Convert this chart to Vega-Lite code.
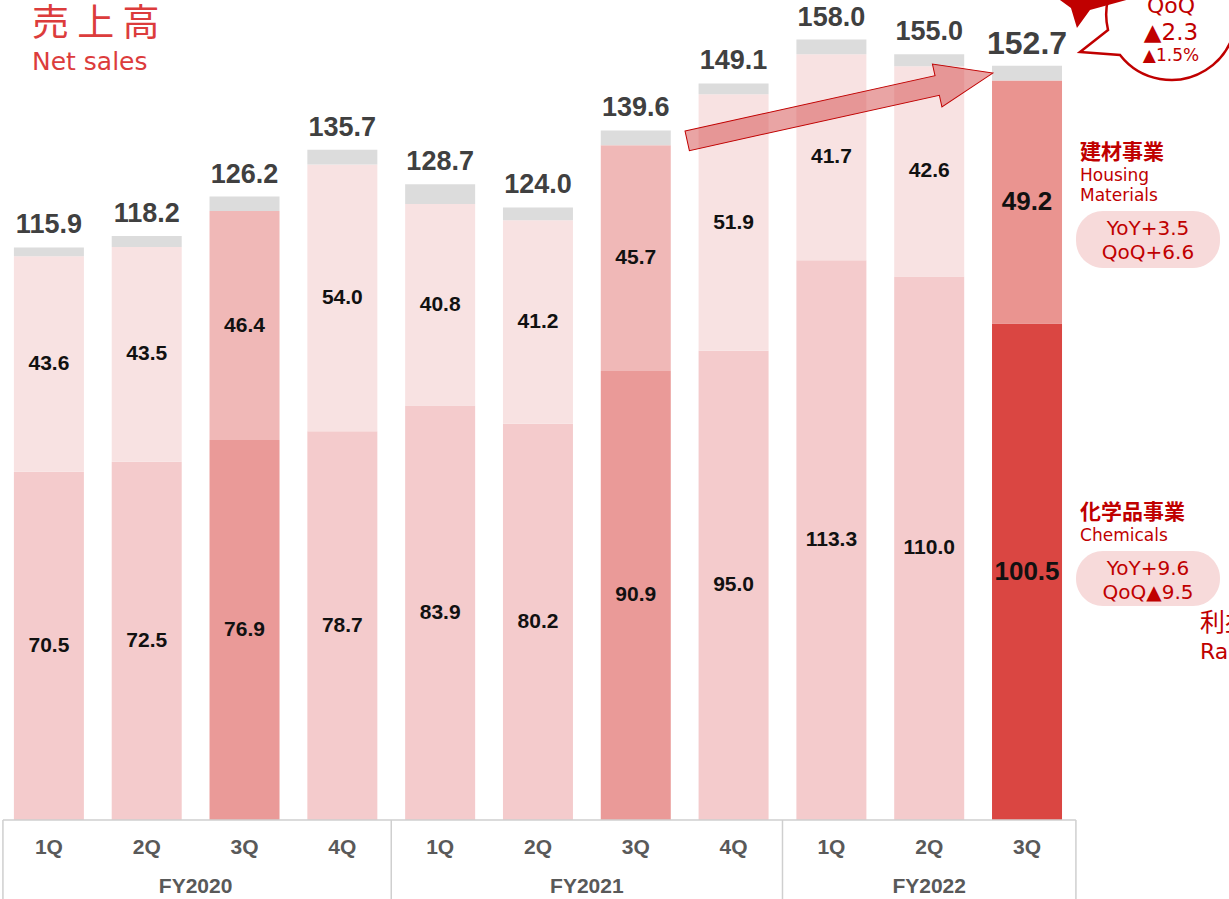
{
  "$schema": "https://vega.github.io/schema/vega-lite/v6.json",
  "width": 1229,
  "height": 899,
  "padding": 0,
  "autosize": {"type": "none"},
  "background": "white",
  "config": {"view": {"stroke": null}},
  "datasets": {
    "sales": [
      {"i": 0, "fy": "FY2020", "q": "1Q", "chem": 70.5, "housing": 43.6, "other": 1.8, "total": 115.9},
      {"i": 1, "fy": "FY2020", "q": "2Q", "chem": 72.5, "housing": 43.5, "other": 2.2, "total": 118.2},
      {"i": 2, "fy": "FY2020", "q": "3Q", "chem": 76.9, "housing": 46.4, "other": 2.9, "total": 126.2},
      {"i": 3, "fy": "FY2020", "q": "4Q", "chem": 78.7, "housing": 54.0, "other": 3.0, "total": 135.7},
      {"i": 4, "fy": "FY2021", "q": "1Q", "chem": 83.9, "housing": 40.8, "other": 4.0, "total": 128.7},
      {"i": 5, "fy": "FY2021", "q": "2Q", "chem": 80.2, "housing": 41.2, "other": 2.6, "total": 124.0},
      {"i": 6, "fy": "FY2021", "q": "3Q", "chem": 90.9, "housing": 45.7, "other": 3.0, "total": 139.6},
      {"i": 7, "fy": "FY2021", "q": "4Q", "chem": 95.0, "housing": 51.9, "other": 2.2, "total": 149.1},
      {"i": 8, "fy": "FY2022", "q": "1Q", "chem": 113.3, "housing": 41.7, "other": 3.0, "total": 158.0},
      {"i": 9, "fy": "FY2022", "q": "2Q", "chem": 110.0, "housing": 42.6, "other": 2.4, "total": 155.0},
      {"i": 10, "fy": "FY2022", "q": "3Q", "chem": 100.5, "housing": 49.2, "other": 3.0, "total": 152.7}
    ]
  },
  "data": {"name": "sales"},
  "layer": [
    {
      "transform": [
        {"fold": ["chem", "housing", "other"], "as": ["key", "value"]},
        {"calculate": "indexof(['chem','housing','other'], datum.key)", "as": "ord"},
        {"stack": "value", "groupby": ["i"], "sort": [{"field": "ord", "order": "ascending"}], "as": ["y0", "y1"]}
      ],
      "mark": {"type": "bar", "size": 70},
      "encoding": {
        "x": {"field": "i", "type": "quantitative", "scale": {"domain": [-0.5, 12.065], "nice": false, "zero": false, "padding": 0}, "axis": null},
        "y": {"field": "y1", "type": "quantitative", "scale": {"domain": [-16, 166], "nice": false, "zero": false, "padding": 0}, "axis": null},
        "y2": {"field": "y0"},
        "color": {
          "condition": [
            {"test": "datum.key === 'other'", "value": "#dcdcdc"},
            {"test": "datum.fy === 'FY2022' && datum.q === '3Q' && datum.key === 'chem'", "value": "#da4642"},
            {"test": "datum.fy === 'FY2022' && datum.q === '3Q'", "value": "#ea9490"},
            {"test": "datum.q === '3Q' && datum.key === 'chem'", "value": "#ea9a98"},
            {"test": "datum.q === '3Q'", "value": "#f0b8b7"},
            {"test": "datum.key === 'chem'", "value": "#f4cbcc"}
          ],
          "value": "#f8e2e2"
        }
      }
    },
    {
      "data": {"values": [{}]},
      "mark": {"type": "rule", "color": "#cfcfcf", "strokeWidth": 1.5},
      "encoding": {"x": {"datum": -0.47}, "x2": {"datum": 10.5}, "y": {"datum": 0}}
    },
    {
      "data": {"values": [{}]},
      "mark": {"type": "rule", "color": "#cfcfcf", "strokeWidth": 1.5},
      "encoding": {"x": {"datum": -0.47}, "y": {"datum": 0}, "y2": {"datum": -16}}
    },
    {
      "data": {"values": [{}]},
      "mark": {"type": "rule", "color": "#cfcfcf", "strokeWidth": 1.5},
      "encoding": {"x": {"datum": 3.5}, "y": {"datum": 0}, "y2": {"datum": -16}}
    },
    {
      "data": {"values": [{}]},
      "mark": {"type": "rule", "color": "#cfcfcf", "strokeWidth": 1.5},
      "encoding": {"x": {"datum": 7.5}, "y": {"datum": 0}, "y2": {"datum": -16}}
    },
    {
      "data": {"values": [{}]},
      "mark": {"type": "rule", "color": "#cfcfcf", "strokeWidth": 1.5},
      "encoding": {"x": {"datum": 10.5}, "y": {"datum": 0}, "y2": {"datum": -16}}
    },
    {
      "data": {"values": [{}]},
      "mark": {
        "type": "point",
        "shape": "M-1,-0.064L0.636,-0.064L0.636,-0.14L1,0L0.636,0.14L0.636,0.064L-1,0.064Z",
        "size": 97969,
        "angle": -12.5,
        "filled": true,
        "fill": "#d44a4a",
        "fillOpacity": 0.5,
        "stroke": "#c00000",
        "strokeWidth": 1,
        "strokeOpacity": 1,
        "opacity": 1
      },
      "encoding": {"x": {"datum": 8.088}, "y": {"datum": 144.34}}
    },
    {
      "transform": [
        {"fold": ["chem", "housing", "other"], "as": ["key", "value"]},
        {"calculate": "indexof(['chem','housing','other'], datum.key)", "as": "ord"},
        {"stack": "value", "groupby": ["i"], "sort": [{"field": "ord", "order": "ascending"}], "as": ["y0", "y1"]},
        {"filter": "datum.key !== 'other'"},
        {"calculate": "(datum.y0 + datum.y1) / 2", "as": "ymid"}
      ],
      "mark": {"type": "text", "font": "Liberation Sans", "fontWeight": "bold", "color": "#111111", "baseline": "middle", "align": "center"},
      "encoding": {
        "x": {"field": "i", "type": "quantitative"},
        "y": {"field": "ymid", "type": "quantitative"},
        "text": {"field": "value", "type": "quantitative", "format": ".1f"},
        "size": {"condition": {"test": "datum.fy === 'FY2022' && datum.q === '3Q'", "value": 26}, "value": 21}
      }
    },
    {
      "mark": {"type": "text", "font": "Liberation Sans", "fontWeight": "bold", "color": "#404040", "baseline": "middle", "align": "center"},
      "encoding": {
        "x": {"field": "i", "type": "quantitative"},
        "y": {"field": "total", "type": "quantitative"},
        "text": {"field": "total", "type": "quantitative", "format": ".1f"},
        "size": {"condition": {"test": "datum.fy === 'FY2022' && datum.q === '3Q'", "value": 32}, "value": 27},
        "yOffset": {"condition": {"test": "datum.fy === 'FY2022' && datum.q === '3Q'", "value": -27}, "value": -22}
      }
    },
    {
      "mark": {"type": "text", "font": "Liberation Sans", "fontWeight": "bold", "color": "#595959", "fontSize": 21, "baseline": "middle", "align": "center"},
      "encoding": {
        "x": {"field": "i", "type": "quantitative"},
        "y": {"datum": -5.67},
        "text": {"field": "q", "type": "nominal"}
      }
    },
    {
      "transform": [{"aggregate": [{"op": "mean", "field": "i", "as": "c"}], "groupby": ["fy"]}],
      "mark": {"type": "text", "font": "Liberation Sans", "fontWeight": "bold", "color": "#595959", "fontSize": 21, "baseline": "middle", "align": "center"},
      "encoding": {
        "x": {"field": "c", "type": "quantitative"},
        "y": {"datum": -13.56},
        "text": {"field": "fy", "type": "nominal"}
      }
    },
    {
      "data": {"values": [{}]},
      "mark": {"type": "text", "text": "売 上 高", "font": "Noto Sans CJK JP", "fontSize": 37, "color": "#dc3c3c", "align": "left", "baseline": "middle"},
      "encoding": {"x": {"datum": -0.173}, "y": {"datum": 160.95}}
    },
    {
      "data": {"values": [{}]},
      "mark": {"type": "text", "text": "Net sales", "font": "DejaVu Sans", "fontSize": 25, "color": "#dc3c3c", "align": "left", "baseline": "middle"},
      "encoding": {"x": {"datum": -0.173}, "y": {"datum": 153.45}}
    },
    {
      "data": {"values": [{}]},
      "mark": {
        "type": "point",
        "shape": "M-0.62,0.18L-0.9,0.4L-0.5,0.43A0.65,0.65,0,1,0,-0.62,0.18Z",
        "size": 40000,
        "filled": true,
        "fill": "white",
        "stroke": "#c00000",
        "strokeWidth": 2.5,
        "opacity": 1
      },
      "encoding": {"x": {"datum": 11.462}, "y": {"datum": 163.57}}
    },
    {
      "data": {"values": [{}]},
      "mark": {
        "type": "point",
        "shape": "M-0.74,-0.4L-0.64,0L-0.42,0.16L-0.3,0.56L-0.04,0.2L0.76,-0.02L0.76,-0.4Z",
        "size": 10000,
        "filled": true,
        "fill": "#c00000",
        "strokeWidth": 0,
        "opacity": 1
      },
      "encoding": {"x": {"datum": 10.664}, "y": {"datum": 166.0}}
    },
    {
      "data": {"values": [{}]},
      "mark": {"type": "text", "text": "QoQ", "font": "DejaVu Sans", "fontSize": 22, "color": "#c00000", "align": "center", "baseline": "middle"},
      "encoding": {"x": {"datum": 11.472}, "y": {"datum": 164.8}}
    },
    {
      "data": {"values": [{}]},
      "mark": {"type": "text", "text": "▲2.3", "font": "DejaVu Sans", "fontSize": 23, "color": "#c00000", "align": "center", "baseline": "middle"},
      "encoding": {"x": {"datum": 11.472}, "y": {"datum": 159.3}}
    },
    {
      "data": {"values": [{}]},
      "mark": {"type": "text", "text": "▲1.5%", "font": "DejaVu Sans", "fontSize": 17, "color": "#c00000", "align": "center", "baseline": "middle"},
      "encoding": {"x": {"datum": 11.472}, "y": {"datum": 154.7}}
    },
    {
      "data": {"values": [{}]},
      "mark": {"type": "text", "text": "建材事業", "font": "Noto Sans CJK JP", "fontWeight": "bold", "fontSize": 21, "color": "#c00000", "align": "left", "baseline": "middle"},
      "encoding": {"x": {"datum": 10.542}, "y": {"datum": 135.03}}
    },
    {
      "data": {"values": [{}]},
      "mark": {"type": "text", "text": ["Housing", "Materials"], "lineHeight": 20, "font": "DejaVu Sans", "fontSize": 17, "color": "#c00000", "align": "left", "baseline": "middle"},
      "encoding": {"x": {"datum": 10.542}, "y": {"datum": 130.38}}
    },
    {
      "data": {"values": [{}]},
      "mark": {"type": "rect", "color": "#f7dada", "cornerRadius": 27},
      "encoding": {"x": {"datum": 10.501}, "x2": {"datum": 11.973}, "y": {"datum": 123.29}, "y2": {"datum": 111.75}}
    },
    {
      "data": {"values": [{}]},
      "mark": {"type": "text", "text": ["YoY+3.5", "QoQ+6.6"], "lineHeight": 24, "font": "DejaVu Sans", "fontSize": 20, "color": "#c00000", "align": "center", "baseline": "middle"},
      "encoding": {"x": {"datum": 11.237}, "y": {"datum": 119.65}}
    },
    {
      "data": {"values": [{}]},
      "mark": {"type": "text", "text": "化学品事業", "font": "Noto Sans CJK JP", "fontWeight": "bold", "fontSize": 21, "color": "#c00000", "align": "left", "baseline": "middle"},
      "encoding": {"x": {"datum": 10.542}, "y": {"datum": 62.15}}
    },
    {
      "data": {"values": [{}]},
      "mark": {"type": "text", "text": "Chemicals", "font": "DejaVu Sans", "fontSize": 17, "color": "#c00000", "align": "left", "baseline": "middle"},
      "encoding": {"x": {"datum": 10.542}, "y": {"datum": 57.49}}
    },
    {
      "data": {"values": [{}]},
      "mark": {"type": "rect", "color": "#f7dada", "cornerRadius": 27},
      "encoding": {"x": {"datum": 10.501}, "x2": {"datum": 11.973}, "y": {"datum": 54.46}, "y2": {"datum": 43.32}}
    },
    {
      "data": {"values": [{}]},
      "mark": {"type": "text", "text": ["YoY+9.6", "QoQ▲9.5"], "lineHeight": 24, "font": "DejaVu Sans", "fontSize": 20, "color": "#c00000", "align": "center", "baseline": "middle"},
      "encoding": {"x": {"datum": 11.237}, "y": {"datum": 50.81}}
    },
    {
      "data": {"values": [{}]},
      "mark": {"type": "text", "text": "利益", "font": "Noto Sans CJK JP", "fontSize": 25, "color": "#c00000", "align": "left", "baseline": "middle"},
      "encoding": {"x": {"datum": 11.768}, "y": {"datum": 39.88}}
    },
    {
      "data": {"values": [{}]},
      "mark": {"type": "text", "text": "Ra", "font": "DejaVu Sans", "fontSize": 22, "color": "#c00000", "align": "left", "baseline": "middle"},
      "encoding": {"x": {"datum": 11.768}, "y": {"datum": 34.01}}
    }
  ]
}
